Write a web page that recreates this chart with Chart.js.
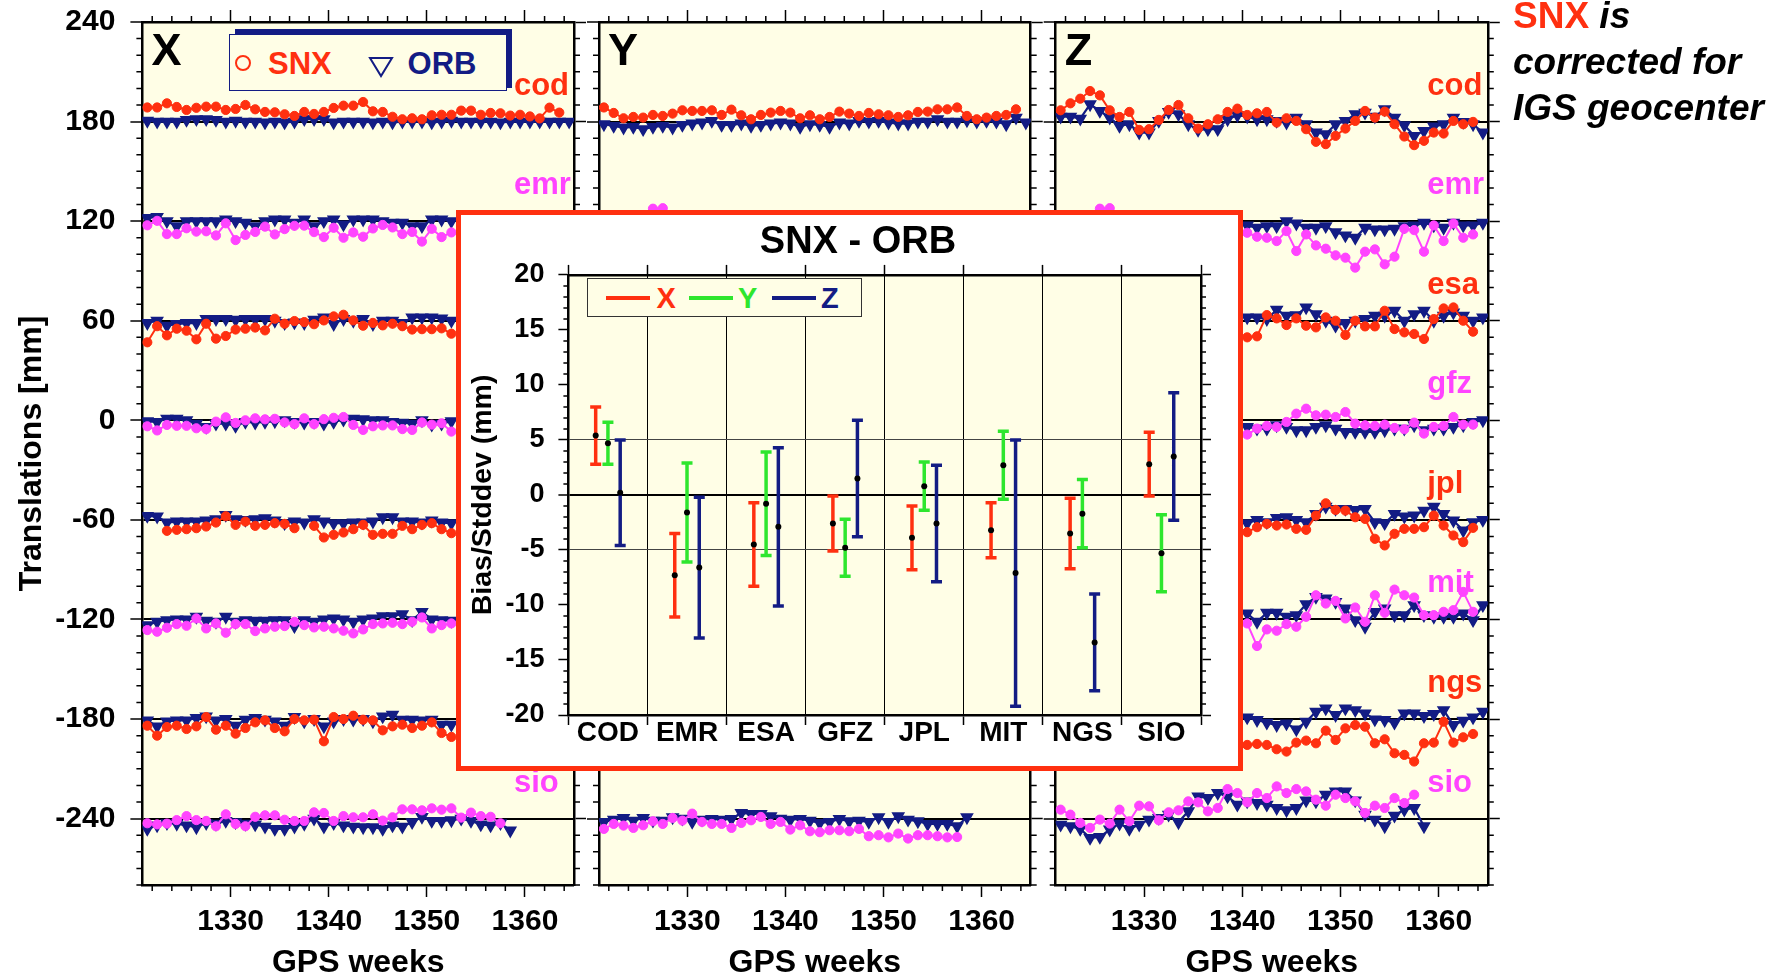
<!DOCTYPE html>
<html><head><meta charset="utf-8">
<script src="https://cdn.jsdelivr.net/npm/chart.js@4.4.1/dist/chart.umd.min.js"></script>
<style>
html,body{margin:0;padding:0;background:#fff;width:1787px;height:978px;overflow:hidden;font-family:"Liberation Sans",Arial,sans-serif;}
.full{position:absolute;left:0;top:0;}
#inset{position:absolute;left:456px;top:210px;width:787px;height:561px;box-sizing:border-box;border:5px solid #ff3010;background:#fff;z-index:5;}
#insetCanvas{position:absolute;left:8px;top:0;}
.abs{position:absolute;}
.t{position:absolute;font-weight:bold;line-height:1;white-space:nowrap;}
</style></head><body>
<canvas id="cX" class="full" width="1787" height="978"></canvas>
<canvas id="cY" class="full" width="1787" height="978"></canvas>
<canvas id="cZ" class="full" width="1787" height="978"></canvas>

<!-- main legend -->
<div class="abs" style="left:235px;top:29px;width:277px;height:59px;background:#131c84;z-index:3"></div>
<div class="abs" style="left:228.5px;top:34px;width:278.5px;height:57px;box-sizing:border-box;border:1.5px solid #131c84;background:#fffee6;z-index:3"></div>
<div class="abs" style="left:235px;top:55.3px;width:16px;height:16px;box-sizing:border-box;border:2px solid #ff3010;border-radius:50%;z-index:4"></div>
<div class="t" style="left:268px;top:47.8px;font-size:31px;color:#ff3010;z-index:4">SNX</div>
<svg class="abs" style="left:368px;top:56px;z-index:4" width="26" height="22"><polygon points="2,2 24,2 13,20" fill="none" stroke="#131c84" stroke-width="2"/></svg>
<div class="t" style="left:407.6px;top:47.8px;font-size:31px;color:#131c84;z-index:4">ORB</div>

<!-- right note -->
<div class="abs" style="left:1513px;top:-7px;font:italic bold 37px/46px 'Liberation Sans',Arial,sans-serif;color:#000;white-space:nowrap"><span style="color:#ff3010;font-style:normal">SNX</span> is<br>corrected for<br>IGS geocenter</div>

<div id="inset"><canvas id="insetCanvas" width="778" height="551"></canvas></div>
<!-- inset legend -->
<div class="abs" style="left:586.7px;top:278.4px;width:275.3px;height:38.9px;box-sizing:border-box;border:1.5px solid #333;background:#fffee6;z-index:6"></div>
<div class="abs" style="left:605.6px;top:296px;width:44.4px;height:4px;background:#ff3010;z-index:7"></div>
<div class="t" style="left:656.6px;top:283.9px;font-size:29px;color:#ff3010;z-index:7">X</div>
<div class="abs" style="left:688.8px;top:296px;width:44.2px;height:4px;background:#2ee62e;z-index:7"></div>
<div class="t" style="left:738px;top:283.9px;font-size:29px;color:#2ee62e;z-index:7">Y</div>
<div class="abs" style="left:772.4px;top:296px;width:43.6px;height:4px;background:#131c84;z-index:7"></div>
<div class="t" style="left:821px;top:283.9px;font-size:29px;color:#131c84;z-index:7">Z</div>

<script>
// ---------------- DATA ----------------
const weeks = [1321,1322,1323,1324,1325,1326,1327,1328,1329,1330,1331,1332,1333,1334,1335,1336,1337,1338,1339,1340,1341,1342,1343,1344,1345,1346,1347,1348,1349,1350,1351,1352,1353,1354,1355,1356,1357,1358,1359,1360,1361,1362,1363,1364];
const centers = ['cod','emr','esa','gfz','jpl','mit','ngs','sio'];
const centerOffsets = [180,120,60,0,-60,-120,-180,-240];
const yTickValues = [240,180,120,60,0,-60,-120,-180,-240];
const xTickValues = [1330,1340,1350,1360];

// translations (mm) relative to each centre's offset line; null = not visible (hidden by inset) or missing week
// ---- X component ----
const X_cod_snx = [8.5,8.5,11,8.8,7,8.3,9,9,7,7.6,10,7.4,5.8,5.6,4.4,3.4,5.8,4.6,5.8,8.2,9.6,9.6,11.8,6.2,5.8,2.9,1.4,2,1.4,3.8,4.1,4.1,6.6,6.6,4.1,5.2,5,3.6,4.1,3.1,1.9,8.4,5.4];
const X_cod_orb = [0.5,0,0,0,1,1.5,1.5,1,0,0.5,0,0,-0.5,0,-0.5,0,1.5,1.5,1.5,-0.5,0,0,0,-0.5,0,-0.5,0,0,0,-0.5,0,0.5,0,0,0,0,-0.5,0,0,0,0,0,0,0];
const X_emr_snx = [-2.5,0.2,-7.8,-7.8,-4.3,-6.3,-6.1,-8.6,-1.3,-11.4,-8.3,-6.5,-3.3,-8,-4.8,-2.8,-2.7,-6.6,-9.6,-4,-10,-6.8,-9.4,-4.4,-2.3,-3.8,-7.8,-6.5,-12.3,-4.6,-9.6,-6.8];
const X_emr_orb = [2,2.6,0,-3,0,0,0,0,1,0,-1,-3,0,1,1,-1,1,-3,0,1,-2,1,1,1,0,-1,-1,-3,-3,1,1,0];
const X_esa_snx = [-13,-3.3,-8.8,-4.8,-6,-11.2,-1.8,-10.8,-9.2,-5.3,-4.8,-4.1,-5.8,1.2,-1.8,-0.2,-0.8,-2.1,0.2,2.6,3.6,0.2,-3,-1.3,-2.8,-1.8,-3.3,-5.3,-5.1,-5.1,-4.6,-7.8];
const X_esa_orb = [-1.4,0,-3,-2,-1.4,-1.4,1,1,1,0.6,1,1,1,0,-1.4,-1,-1.4,0.6,2,-2,1,0,1,-2,0,0,-1.4,2,2,2,1.4,0];
const X_gfz_snx = [-3.6,-6.1,-2.8,-3.3,-3.3,-4.8,-5.3,-0.8,1.8,-1.6,0,1.2,0.6,0.9,-1.3,-2.3,1.2,-2.3,0.7,1.5,2,-2.8,-5.8,-3.6,-3.1,-3.1,-5.3,-5.8,-1.3,-2.6,-1.8,-6.8];
const X_gfz_orb = [-0.6,-1,1,1,0,-2,-4,-2,-2,-3.4,-1,-1.4,-1,-0.6,0,-1,-1.4,-1,-2,-1,0.4,1,0.6,0,0,-1,-1.4,-2,0,-2.6,-2,-0.6];
const X_jpl_snx = [null,null,-6.6,-6,-5.6,-5,-4,-1.6,2.2,-3,-1,-3.6,-3,-2,-2.4,-5,null,-3.6,-10.6,-9,-7.6,-5.6,-3,-9,-8.4,-8.4,-3.6,-5.6,-3,-2,-5.6,-8];
const X_jpl_orb = [2.4,2,-1.6,-1,-1,-1,-0.4,0.4,3,0.4,0,0.4,1,-0.4,-2,-1,-1.6,0.4,-1,-2,-2,-1.6,-1.6,-1,1.6,1.6,-1,-1,-1.6,-0.4,-1.6,-2];
const X_mit_snx = [-6.4,-7.4,-5,-2.8,-3.8,0.6,-5.4,-2.4,-8,-2.8,-2.8,-7,-5.4,-4.4,-4,-1.4,-3.4,-4.8,-4.4,-5.4,-6.8,-8.4,-6,-2.8,-2.4,-2,-2.8,-1.4,1.2,-5.4,-3.4,-2.4];
const X_mit_orb = [-3.4,-1.4,-0.4,0,0,1.6,-0.8,-1.4,1.6,-1.4,-0.4,-0.8,-0.8,-0.4,-0.4,-4,-0.4,-1.4,0,0.6,0,-1.4,0,0.6,2,2,3.2,-0.4,4.6,0,-0.4,-0.8];
const X_ngs_snx = [-4,-10,-4.8,-4,-6,-4.4,1.2,-6.4,-4,-8.8,-5.4,-2,-0.8,-5.4,-7.4,0,-0.8,-0.4,-13.4,1.2,0,2,-0.4,-0.8,-6.8,-4.4,-3.4,-5.4,-4,-2,-8.4,-10.8];
const X_ngs_orb = [-0.8,-4.4,-1.4,-0.8,-0.8,0.6,1.6,-0.8,0,-4,-0.4,0.6,-0.4,-1.4,-4,1.2,-1.4,0,-4.4,-1.4,0,-0.4,0,-1.4,1.6,2.6,-0.4,-0.4,-0.8,-0.4,-3.4,-3.4];
const X_sio_snx = [-2.8,-3.5,-3,-0.9,1.5,-0.9,-1.4,-4.6,2.6,-3.2,-4.6,1.1,2,2,-0.7,-1.4,-1.4,3.8,3.4,-1.4,1.5,0.8,0.8,2.6,-1.2,0.8,5.6,5.6,5,6.2,5.4,6.2,0.6,3.6,1.5,1.1,-2.8];
const X_sio_orb = [-6.2,-4.1,-2.7,-3.1,-4.1,-5.2,-2.7,-3.1,-1.4,-2.1,-3.1,-3.5,-4.8,-6.2,-6.2,-4.8,-3.1,0,-4.8,-2.7,-4.1,-4.8,-5.2,-5.2,-6.2,-4.1,-4.8,-2.1,1,-1.4,-1.4,-1,0,-1.4,-3.5,-4.1,-2.7,-7.2];

// ---- Y component (rows emr..ngs hidden behind the inset) ----
const Y_cod_snx = [8.5,5.2,2,2.8,2.4,4,3.4,4.8,6.8,6.4,6.4,6.8,4,7.2,3.8,1.4,4,5.4,6.4,5.4,2,3.8,1.4,2.8,6,4.8,3.4,5.2,4.4,3.8,2.8,3.8,5.8,6,7.4,7.4,8.5,3.4,1.4,2.4,3.4,4,7.4];
const Y_cod_orb = [-1.6,-2.6,-3.6,-3.2,-4.6,-3.2,-2.6,-3.6,-2,-1.2,-0.6,0.4,-2,-2,-1.2,-2.6,-2,-1.2,-0.6,-1.2,-3.2,-1.6,-2,-3.2,-0.6,-1.2,0.4,0,0.4,-0.6,-1.2,-1.2,0,0,1.4,0,0,0.8,0,0.4,0,-1.6,2.4,-0.6];
const Y_emr_snx = [null,null,null,null,null,7.5,7.8];
const Y_sio_snx = [-6.2,-3.2,-4.2,-5.6,-4,-1.6,-3.2,0.4,-1.2,3,-2,-3.2,-3.2,-5.6,-2.6,-1,1,-3.2,-2,-6.6,-4,-7.6,-8.2,-7,-7,-7.6,-6.2,-10.6,-10,-11.3,-9,-12,-10,-10,-10.6,-11.3,-11.1];
const Y_sio_orb = [-2,-0.6,0.4,-1.2,0.4,-1.2,-1.2,0.8,0,-2,-0.6,-0.2,-0.6,-0.2,3.4,2.8,2.8,1.4,0,-0.6,-0.2,-1.2,-2.6,-2,-0.2,-1.6,-1.2,-2,0.8,-2,1.4,-0.6,-1.6,-3.2,-3.2,-3.2,-4.6,0.8];

// ---- Z component ----
const Z_cod_snx = [6.8,11,13.8,18.4,15.8,6.8,2.8,5.8,-5,-4.6,1,7,10,2,-4.2,-1.6,1.4,5.8,7.8,4,5,5.8,-0.6,2,0.4,-4.6,-12.2,-13.6,-8.6,-4.2,0.4,6.4,2.4,6,-1.6,-9,-14.2,-11.6,-6.6,-7.2,0.4,-1.6,-0.2];
const Z_cod_orb = [3,3,1.8,10.4,6.4,2.4,-2.6,-1.6,-6.6,-6.6,0.4,5.8,4.4,-1.6,-5,-4.6,-4.6,1.4,3.8,3,1.4,1.4,0.4,-0.6,2.4,-1.6,-6.6,-7.6,-1.6,0.4,4.4,5.4,3,7.4,2.4,-2.2,-8.6,-5.6,-3,-1.6,2.4,-0.2,-1.6,-6.6];
const Z_emr_snx = [null,null,null,null,7.5,7.8,null,null,null,null,null,null,null,null,null,null,null,null,null,-7,-9.4,-10,-12,-6,-18,-8,-14.6,-16.6,-20.6,-22,-28,-18.4,-17,-26,-21.4,-4.6,-5.4,-18.4,-2.6,-12,-1.4,-10,-8];
const Z_emr_orb = [null,null,null,null,null,null,null,null,null,null,null,null,null,null,null,null,null,null,null,-2.6,-4,-3,-3,0,-1.4,-4,-4,-3,-6.6,-8.6,-10,-4,-5,-5,-4.6,-3,-2.6,-1,-2.6,-4,-1,-2.6,-2.6,-1];
const Z_esa_snx = [null,null,null,null,null,null,null,null,null,null,null,null,null,null,null,null,null,null,null,-10,-9.4,3.4,1.4,-2.6,1.4,-3,-4,2,0,-8.6,0,-3.4,-3.4,6,-5,-7,-8,-11,1,7.4,8,0,-6.6];
const Z_esa_orb = [null,null,null,null,null,null,null,null,null,null,null,null,null,null,null,null,null,null,null,2,2,1,6.6,3,3.4,8,4,0,-3,-1.4,0,1,3,3,6,0,4,6,0,3,5,3,0,2];
const Z_gfz_snx = [null,null,null,null,null,null,null,null,null,null,null,null,null,null,null,null,null,null,null,-8.6,-5,-3.4,-4,-1,4,7,3,3.4,2,5,-2,-3,-3.4,-2.6,-4.6,-5.4,-1.4,-8,-4,-3.4,2,-2.6,-2.6];
const Z_gfz_orb = [null,null,null,null,null,null,null,null,null,null,null,null,null,null,null,null,null,null,null,-4,-5,-5,-3,-4,-6,-6,-4,-3,-5,-7,-7,-7,-7,-6,-5,-5,-3,-6,-5,-5,-4,-3,-1,0];
const Z_jpl_snx = [null,null,null,null,null,null,null,null,null,null,null,null,null,null,null,null,null,null,null,-7.4,-4.4,-2.4,-3.4,-2.8,-5.4,-6,2.6,10,6,5.6,1.6,0.6,-11.4,-15.4,-8.4,-5.4,-5.4,-4.4,2.6,-3.4,-9.4,-13.4,-4.8];
const Z_jpl_orb = [null,null,null,null,null,null,null,null,null,null,null,null,null,null,null,null,null,null,null,-2,0,-1.4,1.2,1.6,0,-1.4,3.6,8,6.6,6.6,6,6.6,-1.4,-2,3.6,2,2.6,5.6,8,3.6,-0.4,-6.4,-1.4,0];
const Z_mit_snx = [null,null,null,null,null,null,null,null,null,null,null,null,null,null,null,null,null,null,null,-2.4,-16,-6,-6.8,-2.8,-4.4,1.6,14.6,9.6,11.2,0.6,7.2,-1.4,14.6,4,18,14.6,13.2,2.6,2.6,4.6,5.6,16.6,4.6];
const Z_mit_orb = [null,null,null,null,null,null,null,null,null,null,null,null,null,null,null,null,null,null,null,3.6,-1.4,4,4,1.6,2.6,9.2,13.6,12.6,10.6,6.6,-0.4,-4.4,4.6,6.6,2.6,2.6,8.6,2.6,1.6,1.6,1.6,3.6,-0.4,8.6];
const Z_ngs_snx = [null,null,null,null,null,null,null,null,null,null,null,null,null,null,null,null,null,null,null,-15.6,-15,-15.6,-18.2,-19.6,-14.2,-13,-14.6,-7,-12.6,-5.6,-3.6,-4.6,-14.6,-12.2,-20.6,-21.6,-25.6,-14.6,-14.2,-1.6,-14.2,-11,-9];
const Z_ngs_orb = [null,null,null,null,null,null,null,null,null,null,null,null,null,null,null,null,null,null,null,1,-0.6,-2.2,-3.6,-2.6,-6.2,-1.6,4.4,6.4,2.4,6.4,5.4,3.4,-0.2,-0.6,-2.2,3.4,3.4,1.8,3,5.4,-3.6,-1,1,4.4];
const Z_sio_snx = [5.4,2.4,-2.6,-5.6,-0.6,-3,5.4,-1.6,7.8,7.4,-1,3.8,5,10.4,9.8,4.4,6.4,17.8,15.4,9.8,15.4,12.4,19.4,15.4,17.8,16.4,11.4,7.8,14.4,12.4,10.4,3.4,7.8,6.4,12.4,9.4,14.4];
const Z_sio_orb = [-3.6,-4.6,-6.2,-11.6,-11,-6.6,-3,-6.2,-3.6,-0.6,0.4,2.4,-2.2,4.4,13.4,12.4,15.4,13.4,8.4,10.4,9.4,8.4,6.4,5,6.4,11,10.4,14.4,16.4,16.4,11,2.4,-0.6,-4.6,1.8,5.4,6.4,-4.6];

// ---- inset: SNX - ORB bias and std dev (mm) ----
const insetCats = ['COD','EMR','ESA','GFZ','JPL','MIT','NGS','SIO'];
const biasX = [5.4,-7.3,-4.5,-2.6,-3.9,-3.2,-3.5,2.8];
const sdX   = [2.6,3.8,3.8,2.5,2.9,2.5,3.2,2.9];
const biasY = [4.7,-1.6,-0.8,-4.8,0.8,2.7,-1.7,-5.3];
const sdY   = [1.9,4.5,4.7,2.6,2.2,3.1,3.1,3.5];
const biasZ = [0.2,-6.6,-2.9,1.5,-2.6,-7.1,-13.4,3.5];
const sdZ   = [4.8,6.4,7.2,5.3,5.3,12.1,4.4,5.8];
const insetYTicks = [-20,-15,-10,-5,0,5,10,15,20];

// ---------------- STYLE / DRAW ----------------
const FONT = '"Liberation Sans", Arial, Helvetica, sans-serif';
Chart.defaults.font.family = FONT;
Chart.defaults.color = '#000';
const RED = '#ff3010', MAG = '#ff44ff', NAVY = '#131c84', GREEN = '#2ee62e', CREAM = '#fffee6';
const CW = 1787, CH = 978, PLOT_TOP = 22, PLOT_BOTTOM = 885;

const bgPlugin = {
  id: 'bg',
  beforeDraw(chart) {
    const {ctx, chartArea: a} = chart;
    ctx.save(); ctx.fillStyle = CREAM;
    ctx.fillRect(a.left, a.top, a.right - a.left, a.bottom - a.top);
    ctx.restore();
  }
};

const gmtPlugin = {
  id: 'gmt',
  afterDraw(chart, args, o) {
    const {ctx, chartArea: a} = chart;
    const ys = chart.scales.y, xs = chart.scales.x;
    ctx.save();
    ctx.strokeStyle = '#000'; ctx.lineWidth = 1.5;
    ctx.beginPath();
    if (o.yMinor) {
      for (let k = Math.ceil(ys.min / o.yMinor); k * o.yMinor <= ys.max + 1e-9; k++) {
        const v = k * o.yMinor;
        if (o.yMajors.includes(v)) continue;
        const p = ys.getPixelForValue(v);
        ctx.moveTo(a.left - o.yLen, p); ctx.lineTo(a.left, p);
        ctx.moveTo(a.right, p); ctx.lineTo(a.right + o.yLen, p);
      }
    }
    if (o.xMinor) {
      for (let k = Math.ceil(xs.min / o.xMinor); k * o.xMinor <= xs.max + 1e-9; k++) {
        const v = k * o.xMinor;
        if (o.xMajors.includes(v)) continue;
        const p = xs.getPixelForValue(v);
        ctx.moveTo(p, a.bottom); ctx.lineTo(p, a.bottom + o.xLen);
        ctx.moveTo(p, a.top - o.xLen); ctx.lineTo(p, a.top);
      }
    }
    ctx.stroke();
    if (o.labels) {
      ctx.font = 'bold 31px ' + FONT;
      ctx.textBaseline = 'alphabetic'; ctx.textAlign = 'left';
      centers.forEach((c, k) => {
        ctx.fillStyle = k % 2 === 0 ? RED : MAG;
        ctx.fillText(c, a.left + 371.5, ys.getPixelForValue(centerOffsets[k] + 16.3));
      });
    }
    if (o.letter) {
      ctx.font = 'bold 45px ' + FONT;
      ctx.fillStyle = '#000'; ctx.textBaseline = 'alphabetic'; ctx.textAlign = 'left';
      ctx.fillText(o.letter, a.left + 9, a.top + 43);
    }
    ctx.restore();
  }
};

function toPts(vals, off) {
  return vals.map((v, i) => ({x: weeks[i] + 0.5, y: v === null ? null : v + off}));
}

const panels = [
  {id: 'cX', letter: 'X', left: 142.4, right: 574, yLabels: true, labels: true,
   snx: [X_cod_snx, X_emr_snx, X_esa_snx, X_gfz_snx, X_jpl_snx, X_mit_snx, X_ngs_snx, X_sio_snx],
   orb: [X_cod_orb, X_emr_orb, X_esa_orb, X_gfz_orb, X_jpl_orb, X_mit_orb, X_ngs_orb, X_sio_orb]},
  {id: 'cY', letter: 'Y', left: 599, right: 1030.7, yLabels: false, labels: false,
   snx: [Y_cod_snx, Y_emr_snx, [], [], [], [], [], Y_sio_snx],
   orb: [Y_cod_orb, [], [], [], [], [], [], Y_sio_orb]},
  {id: 'cZ', letter: 'Z', left: 1055.7, right: 1487.8, yLabels: false, labels: true,
   snx: [Z_cod_snx, Z_emr_snx, Z_esa_snx, Z_gfz_snx, Z_jpl_snx, Z_mit_snx, Z_ngs_snx, Z_sio_snx],
   orb: [Z_cod_orb, Z_emr_orb, Z_esa_orb, Z_gfz_orb, Z_jpl_orb, Z_mit_orb, Z_ngs_orb, Z_sio_orb]}
];

const tickFont = {size: 30, weight: 'bold'};
const frameBorder = {display: true, color: '#000', width: 2.5};

panels.forEach(p => {
  const datasets = [];
  centers.forEach((c, k) => {
    const col = k % 2 === 0 ? RED : MAG;
    datasets.push({label: c + ' SNX', data: toPts(p.snx[k], centerOffsets[k]), borderColor: col, backgroundColor: col,
      pointStyle: 'circle', pointRadius: 4.6, pointBorderWidth: 1, borderWidth: 2, order: 0, spanGaps: 2.5});
    datasets.push({label: c + ' ORB', data: toPts(p.orb[k], centerOffsets[k]), borderColor: NAVY, backgroundColor: NAVY,
      pointStyle: 'triangle', pointRotation: 180, pointRadius: 6.4, pointBorderWidth: 1.5, borderWidth: 2.2, order: 1, spanGaps: 2.5});
  });
  const xTicksFn = s => { s.ticks = xTickValues.map(v => ({value: v})); };
  const yTicksFn = s => { s.ticks = yTickValues.map(v => ({value: v})); };
  new Chart(document.getElementById(p.id), {
    type: 'line',
    data: {datasets},
    options: {
      responsive: false, animation: false, devicePixelRatio: 1, events: [],
      layout: {padding: 0, autoPadding: false},
      plugins: {legend: {display: false}, tooltip: {enabled: false},
        gmt: {yMinor: 10, yLen: 6, yMajors: yTickValues, xMinor: 2, xLen: 6, xMajors: xTickValues, labels: p.labels, letter: p.letter}},
      scales: {
        x: {type: 'linear', position: 'bottom', min: 1321, max: 1365,
          afterBuildTicks: xTicksFn, afterFit: s => { s.height = CH - PLOT_BOTTOM; },
          grid: {drawOnChartArea: false, tickLength: 12, tickColor: '#000', tickWidth: 1.5},
          border: frameBorder,
          ticks: {font: tickFont, color: '#000', padding: 7, maxRotation: 0, autoSkip: false, callback: v => String(v)},
          title: {display: true, text: 'GPS weeks', color: '#000', font: {size: 32, weight: 'bold', lineHeight: 0.94}, padding: 0}},
        xTop: {type: 'linear', position: 'top', min: 1321, max: 1365,
          afterBuildTicks: xTicksFn, afterFit: s => { s.height = PLOT_TOP; },
          grid: {drawOnChartArea: false, tickLength: 12, tickColor: '#000', tickWidth: 1.5},
          border: frameBorder, ticks: {display: false}},
        y: {type: 'linear', position: 'left', min: -280, max: 240,
          afterBuildTicks: yTicksFn, afterFit: s => { s.width = p.left; },
          grid: {drawOnChartArea: true, color: '#000', lineWidth: 2, tickLength: 12, tickColor: '#000', tickWidth: 1.5},
          border: frameBorder,
          ticks: {display: p.yLabels, font: {size: 30, weight: 'bold', lineHeight: 0.2}, color: '#000', padding: 15, callback: v => String(v)},
          title: {display: p.yLabels, text: 'Translations [mm]', color: '#000', font: {size: 32, weight: 'bold'}, padding: {top: 13, bottom: 0}}},
        yR: {type: 'linear', position: 'right', min: -280, max: 240,
          afterBuildTicks: yTicksFn, afterFit: s => { s.width = CW - p.right; },
          grid: {drawOnChartArea: false, tickLength: 12, tickColor: '#000', tickWidth: 1.5},
          border: frameBorder, ticks: {display: false}}
      }
    },
    plugins: [bgPlugin, gmtPlugin]
  });
});

// ---------------- INSET ----------------
const comps = [
  {bias: biasX, sd: sdX, color: RED, shift: -0.155},
  {bias: biasY, sd: sdY, color: GREEN, shift: 0},
  {bias: biasZ, sd: sdZ, color: NAVY, shift: 0.155}
];
const insetDatasets = [];
comps.forEach(c => {
  const seg = [], caps = [], dots = [];
  insetCats.forEach((cat, i) => {
    const x = i + 0.5 + c.shift;
    const lo = c.bias[i] - c.sd[i], hi = c.bias[i] + c.sd[i];
    seg.push({x, y: lo}, {x, y: hi}, {x, y: null});
    caps.push({x, y: lo}, {x, y: hi});
    dots.push({x, y: c.bias[i]});
  });
  insetDatasets.push({type: 'line', data: seg, borderColor: c.color, borderWidth: 3.5, pointRadius: 0, spanGaps: false, order: 3, borderCapStyle: 'butt'});
  insetDatasets.push({type: 'scatter', data: caps, pointStyle: 'line', pointRadius: 5.5, pointBorderWidth: 3.5, pointBorderColor: c.color, borderColor: c.color, order: 2});
  insetDatasets.push({type: 'scatter', data: dots, pointStyle: 'circle', pointRadius: 3, pointBackgroundColor: '#000', pointBorderColor: '#000', pointBorderWidth: 0, order: 1});
});
const catTicksFn = s => { s.ticks = insetCats.map((c, i) => ({value: i + 0.5})); };
const insetYFn = s => { s.ticks = insetYTicks.map(v => ({value: v})); };
new Chart(document.getElementById('insetCanvas'), {
  type: 'line',
  data: {datasets: insetDatasets},
  options: {
    responsive: false, animation: false, devicePixelRatio: 1, events: [],
    layout: {padding: 0, autoPadding: false},
    plugins: {legend: {display: false}, tooltip: {enabled: false},
      title: {display: true, text: 'SNX - ORB', color: '#000', font: {size: 38, weight: 'bold'}, padding: {top: 5, bottom: 0}},
      gmt: {yMinor: 1, yLen: 5, yMajors: insetYTicks, xMinor: 0, labels: false, letter: ''}},
    scales: {
      x: {type: 'linear', position: 'bottom', min: 0, max: 8,
        afterBuildTicks: catTicksFn, afterFit: s => { s.height = 51; },
        grid: {offset: true, drawOnChartArea: true, color: '#000', lineWidth: 1, tickLength: 10, tickColor: '#000', tickWidth: 1.5},
        border: frameBorder,
        ticks: {callback: (v, i) => insetCats[i], font: {size: 28, weight: 'bold'}, color: '#000', padding: -9, maxRotation: 0, autoSkip: false}},
      xTop: {type: 'linear', position: 'top', min: 0, max: 8,
        afterBuildTicks: catTicksFn, afterFit: s => { s.height = 9.3; },
        grid: {offset: true, drawOnChartArea: false, tickLength: 10, tickColor: '#000', tickWidth: 1.5},
        border: frameBorder, ticks: {display: false}},
      y: {type: 'linear', position: 'left', min: -20, max: 20,
        afterBuildTicks: insetYFn, afterFit: s => { s.width = 99.4; },
        grid: {drawOnChartArea: true,
          color: ctx => (ctx.tick && ctx.tick.value === 0) ? '#000' : ((ctx.tick && Math.abs(ctx.tick.value) === 5) ? '#444' : 'rgba(0,0,0,0)'),
          lineWidth: ctx => (ctx.tick && ctx.tick.value === 0) ? 2 : 1,
          tickLength: 10, tickColor: '#000', tickWidth: 1.5},
        border: frameBorder,
        ticks: {font: {size: 27, weight: 'bold'}, color: '#000', padding: 14, callback: v => String(v)},
        title: {display: true, text: 'Bias/Stddev (mm)', color: '#000', font: {size: 28.5, weight: 'bold', lineHeight: 1}, padding: {top: 0, bottom: 0}}},
      yR: {type: 'linear', position: 'right', min: -20, max: 20,
        afterBuildTicks: insetYFn, afterFit: s => { s.width = 46; },
        grid: {drawOnChartArea: false, tickLength: 10, tickColor: '#000', tickWidth: 1.5},
        border: frameBorder, ticks: {display: false}}
    }
  },
  plugins: [bgPlugin, gmtPlugin]
});
</script>
</body></html>
